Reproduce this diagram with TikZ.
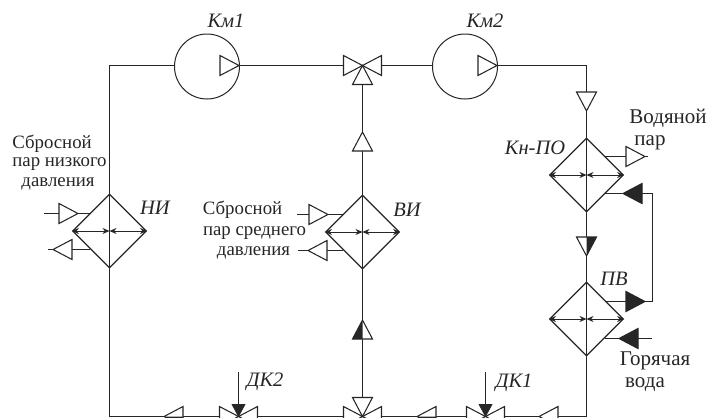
\documentclass[tikz,border=0pt]{standalone}
\usepackage{fontspec}
\setmainfont{Liberation Serif}
\usetikzlibrary{shapes.geometric,arrows.meta}
\definecolor{ink}{HTML}{262626}
\tikzset{
  pipe/.style={line width=1pt,draw=ink},
  hx/.style={diamond,draw=ink,line width=1.15pt,fill=none,minimum width=74pt,minimum height=74pt,inner sep=0pt,aspect=1},
  comp/.style={circle,draw=ink,line width=1pt,fill=white,minimum size=65pt,inner sep=0pt},
  dbl/.style={line width=.95pt,draw=ink,{Stealth[length=7pt,width=6pt]}-{Stealth[length=7pt,width=6pt]}},
  lab/.style={inner sep=0pt,yshift=-1pt,font=\fontsize{18.8}{20}\selectfont,text=ink},
  blab/.style={lab,font=\fontsize{21}{22}\selectfont},
  ilab/.style={lab,font=\fontsize{20.5}{22}\selectfont\itshape},
  tri/.pic={\filldraw[fill=white,draw=ink,line width=1.05pt,line join=miter] (0,0)--(-19,-10)--(-19,10)--cycle;},
  trib/.pic={\filldraw[fill=ink,draw=ink,line width=1.05pt,line join=miter] (0,0)--(-19,-10)--(-19,10)--cycle;},
  trih/.pic={\filldraw[fill=white,draw=ink,line width=1.05pt,line join=miter] (0,0)--(-19,-10)--(-19,10)--cycle;
             \fill[ink] (0,0)--(-19,-10)--(-19,0)--cycle;},
  ctl/.pic={\filldraw[fill=ink,draw=ink,line width=.6pt] (0,0)--(-12,-6.5)--(-12,6.5)--cycle;}
}
\begin{document}
\begin{tikzpicture}[x=1pt,y=-1pt]
\useasboundingbox (0,0) rectangle (721,418);
\clip (0,0) rectangle (721,418);
% equipment
\node[hx] (ni) at (109.5,231) {};
\node[hx] (vi) at (362.5,232) {};
\node[hx] (kn) at (586.5,175) {};
\node[hx] (pv) at (586.5,319) {};
\coordinate (vt) at (362.5,65.5);
\coordinate (vb) at (362.5,416.5);
\coordinate (d2) at (238.5,416.5);
\coordinate (d1) at (485.5,416.5);
\coordinate (cornertl) at (109.5,65.5);
\coordinate (cornertr) at (586.5,65.5);
\coordinate (cornerbl) at (109.5,416.5);
\coordinate (cornerbr) at (586.5,416.5);
% main pipes
\draw[pipe] (ni.north) -- (cornertl) -- (174,65.5);
\draw[pipe] (239,65.5) -- (vt) -- (432,65.5);
\draw[pipe] (497,65.5) -- (cornertr) -- (kn.north);
\draw[pipe] (kn.north) -- (kn.south) -- (pv.north) -- (pv.south) -- (cornerbr) -- (cornerbl) -- (ni.south) -- (ni.north);
\draw[pipe] (vt) -- (vi.north) -- (vi.south) -- (vb);
\node[comp] (km1) at (207,66.5) {};
\node[comp] (km2) at (465,66.5) {};
% heat exchanger internals
\foreach \h in {ni,vi,kn,pv}{
  \draw[dbl] (\h.west) -- (\h.center);
  \draw[dbl] (\h.east) -- (\h.center);
}
% side connections
\coordinate (nia) at (90,213.5); \coordinate (nib) at (44,213.5);
\coordinate (nic) at (90,249.5); \coordinate (nid) at (48,249.5);
\draw[pipe] (nib) -- (nia); \draw[pipe] (nic) -- (nid);
\coordinate (via) at (343,214.5); \coordinate (vib) at (297,214.5);
\coordinate (vic) at (343,250.5); \coordinate (vid) at (298,250.5);
\draw[pipe] (vib) -- (via); \draw[pipe] (vic) -- (vid);
\coordinate (kna) at (605,156.5); \coordinate (knb) at (648,156.5);
\draw[pipe] (kna) -- (knb);
\coordinate (knc) at (605,193.5); \coordinate (knd) at (652.5,193.5);
\coordinate (pva) at (605,301.5); \coordinate (pvb) at (652.5,301.5);
\draw[pipe] (knc) -- (knd) -- (pvb) -- (pva);
\coordinate (pvc) at (605,338.5); \coordinate (pvd) at (652,338.5);
\draw[pipe] (pvc) -- (pvd);
% control lines
\coordinate (c2) at (238.5,372); \coordinate (c1) at (485.5,372);
\draw[pipe] (c2) -- (d2); \draw[pipe] (c1) -- (d1);
% triangles
\pic at (239,65.5) {tri};
\pic at (497,65.5) {tri};
\pic at (vt) {tri};
\pic[rotate=180] at (vt) {tri};
\pic[rotate=90] at (vt) {tri};
\pic[rotate=90] at (362.5,132) {tri};
\pic[rotate=90] at (362.5,320) {trih};
\pic[rotate=-90] at (586.5,111) {tri};
\pic[rotate=-90] at (586.5,256) {trih};
\pic at (78,213.5) {tri};
\pic[rotate=180] at (53,249.5) {tri};
\pic at (328,214.5) {tri};
\pic[rotate=180] at (308,250.5) {tri};
\pic at (645,156.5) {tri};
\pic[rotate=180] at (623,193.5) {trib};
\pic at (645,301.5) {trib};
\pic[rotate=180] at (619,338.5) {trib};
\pic[rotate=180] at (164,416.5) {trih};
\pic[rotate=180] at (417,416.5) {trih};
\pic[rotate=180] at (539,416.5) {tri};
% bottom valves
\foreach \v in {d2,vb,d1}{
  \pic at (\v) {tri};
  \pic[rotate=180] at (\v) {tri};
}
\pic[rotate=-90] at (vb) {tri};
\pic[rotate=-90] at (d2) {ctl};
\pic[rotate=-90] at (d1) {ctl};
% labels
\node[ilab] (lkm1) at (226,20) {Км1};
\node[ilab] (lkm2) at (485,20) {Км2};
\node[ilab] (lni) at (155,207) {НИ};
\node[ilab] (lvi) at (407,209) {ВИ};
\node[ilab] (lkn) at (535,147) {Кн-ПО};
\node[ilab] (lpv) at (614,278) {ПВ};
\node[ilab] (ld2) at (265,381) {ДК2};
\node[ilab] (ld1) at (514,382) {ДК1};
\node[lab] (t1) at (52,143) {Сбросной};
\node[lab] (t2) at (59.5,163) {пар низкого};
\node[lab] (t3) at (58,183) {давления};
\node[lab] (t4) at (242.5,209) {Сбросной};
\node[lab] (t5) at (254.5,232) {пар среднего};
\node[lab] (t6) at (253.5,252) {давления};
\node[blab] (t7) at (668,117) {Водяной};
\node[blab] (t8) at (650,142) {пар};
\node[blab] (t9) at (655,360) {Горячая};
\node[blab] (t10) at (645,384) {вода};
\end{tikzpicture}
\end{document}
